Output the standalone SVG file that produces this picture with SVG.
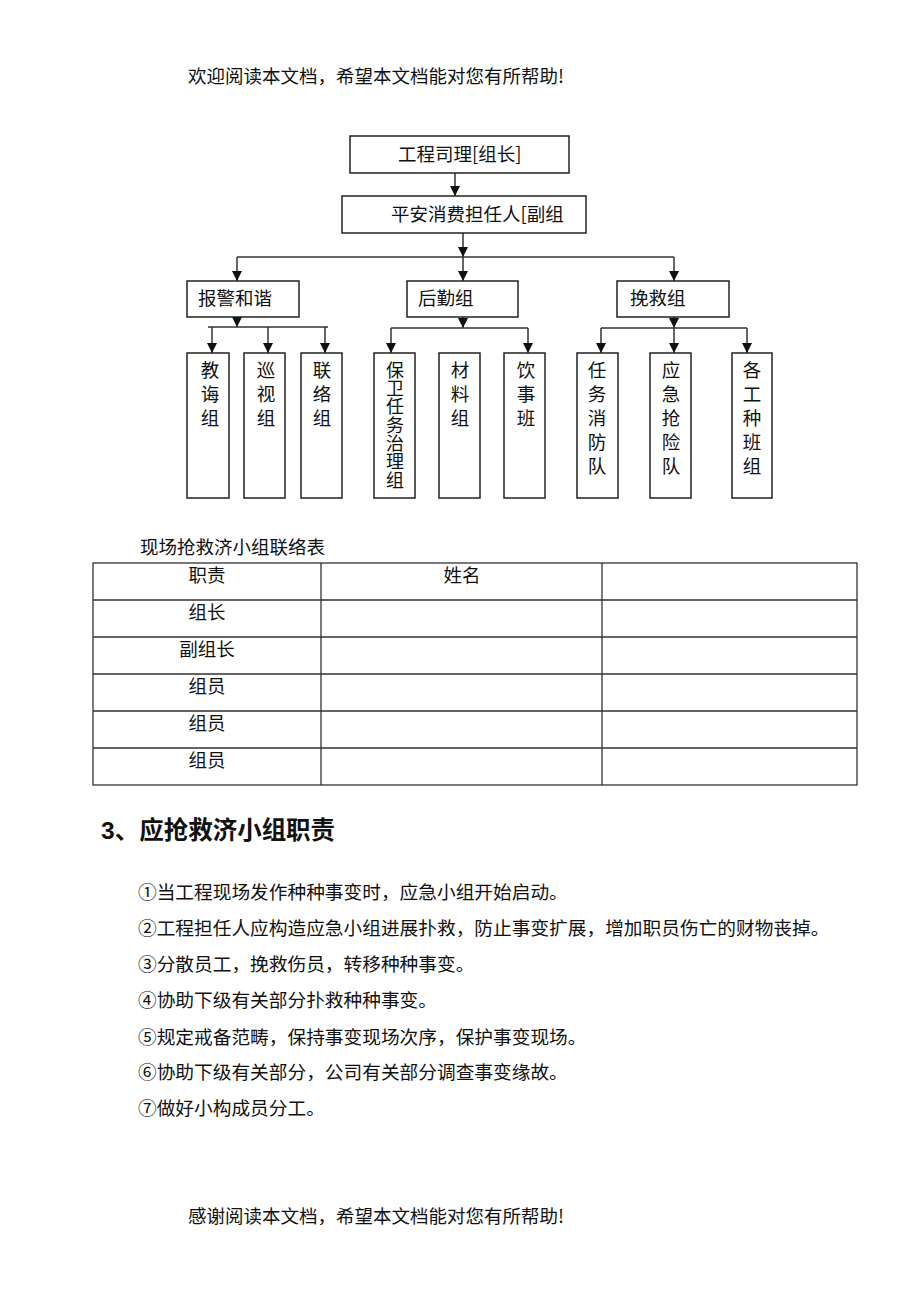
<svg xmlns="http://www.w3.org/2000/svg" width="920" height="1302" viewBox="0 0 920 1302">
<style>
text{font-family:"Noto Sans CJK SC","Liberation Sans",sans-serif;font-size:18.5px;fill:#111}
.box{fill:#fff;stroke:#222;stroke-width:1.5}
.con line{stroke:#333;stroke-width:1.5}
.tb{stroke:#333;stroke-width:1.3;fill:none}
.c{text-anchor:middle}
.v{writing-mode:vertical-rl;font-size:18px;letter-spacing:0.3px}
.li{font-size:18.7px}
.h{font-family:"Liberation Sans","Noto Sans CJK SC",sans-serif;font-weight:bold;font-size:24.5px}
</style>
<defs>
<marker id="ah" markerUnits="userSpaceOnUse" markerWidth="11" markerHeight="11" refX="10" refY="5.5" orient="auto">
<path d="M0,0.5 L10,5.5 L0,10.5 z" fill="#111"/>
</marker>
</defs>
<rect width="920" height="1302" fill="#fff"/>
<text x="188" y="83">欢迎阅读本文档，希望本文档能对您有所帮助!</text>

<g id="connectors" class="con">
<line x1="455" y1="173" x2="455" y2="196" marker-end="url(#ah)"/>
<line x1="463" y1="233" x2="463" y2="257" marker-end="url(#ah)"/>
<line x1="237" y1="257" x2="674" y2="257"/>
<line x1="237" y1="257" x2="237" y2="281" marker-end="url(#ah)"/>
<line x1="463" y1="257" x2="463" y2="281" marker-end="url(#ah)"/>
<line x1="674" y1="257" x2="674" y2="281" marker-end="url(#ah)"/>
<line x1="237" y1="317" x2="237" y2="327" marker-end="url(#ah)"/>
<line x1="208" y1="327" x2="328" y2="327"/>
<line x1="212" y1="327" x2="212" y2="353" marker-end="url(#ah)"/>
<line x1="268" y1="327" x2="268" y2="353" marker-end="url(#ah)"/>
<line x1="325" y1="327" x2="325" y2="353" marker-end="url(#ah)"/>
<line x1="463" y1="317" x2="463" y2="328" marker-end="url(#ah)"/>
<line x1="391" y1="328" x2="528" y2="328"/>
<line x1="391" y1="328" x2="391" y2="353" marker-end="url(#ah)"/>
<line x1="528" y1="328" x2="528" y2="353" marker-end="url(#ah)"/>
<line x1="674" y1="317" x2="674" y2="328" marker-end="url(#ah)"/>
<line x1="601" y1="328" x2="747" y2="328"/>
<line x1="601" y1="328" x2="601" y2="353" marker-end="url(#ah)"/>
<line x1="674" y1="328" x2="674" y2="353" marker-end="url(#ah)"/>
<line x1="747" y1="328" x2="747" y2="353" marker-end="url(#ah)"/>
</g>

<g id="n-leader"><rect class="box" x="350" y="136" width="219" height="37"/><text x="398" y="161">工程司理[组长]</text></g>
<g id="n-deputy"><rect class="box" x="342" y="196" width="244" height="37"/><text x="391" y="221">平安消费担任人[副组</text></g>
<g id="n-alarm"><rect class="box" x="187" y="281" width="112" height="36"/><text x="198" y="305">报警和谐</text></g>
<g id="n-logistics"><rect class="box" x="407" y="281" width="111" height="36"/><text x="418" y="305">后勤组</text></g>
<g id="n-rescue"><rect class="box" x="617" y="281" width="112" height="36"/><text x="630" y="305">挽救组</text></g>

<g id="n-teach"><rect class="box" x="187" y="353" width="42" height="145"/><text class="c" x="210" y="377">教</text><text class="c" x="210" y="401">诲</text><text class="c" x="210" y="425">组</text></g>
<g id="n-patrol"><rect class="box" x="244" y="353" width="41" height="145"/><text class="c" x="266" y="377">巡</text><text class="c" x="266" y="401">视</text><text class="c" x="266" y="425">组</text></g>
<g id="n-liaison"><rect class="box" x="301" y="353" width="41" height="145"/><text class="c" x="322" y="377">联</text><text class="c" x="322" y="401">络</text><text class="c" x="322" y="425">组</text></g>

<g id="n-guard"><rect class="box" x="374" y="353" width="41" height="145"/><text class="v" x="395" y="361">保卫任务治理组</text></g>
<g id="n-material"><rect class="box" x="439" y="353" width="41" height="145"/><text class="c" x="460" y="377">材</text><text class="c" x="460" y="401">料</text><text class="c" x="460" y="425">组</text></g>
<g id="n-kitchen"><rect class="box" x="504" y="353" width="41" height="145"/><text class="c" x="526" y="377">饮</text><text class="c" x="526" y="401">事</text><text class="c" x="526" y="425">班</text></g>

<g id="n-fire"><rect class="box" x="577" y="353" width="41" height="145"/><text class="c" x="597" y="377">任</text><text class="c" x="597" y="401">务</text><text class="c" x="597" y="425">消</text><text class="c" x="597" y="449">防</text><text class="c" x="597" y="473">队</text></g>
<g id="n-emergency"><rect class="box" x="650" y="353" width="41" height="145"/><text class="c" x="671" y="377">应</text><text class="c" x="671" y="401">急</text><text class="c" x="671" y="425">抢</text><text class="c" x="671" y="449">险</text><text class="c" x="671" y="473">队</text></g>
<g id="n-trades"><rect class="box" x="732" y="353" width="40" height="145"/><text class="c" x="752" y="377">各</text><text class="c" x="752" y="401">工</text><text class="c" x="752" y="425">种</text><text class="c" x="752" y="449">班</text><text class="c" x="752" y="473">组</text></g>

<text x="140" y="554">现场抢救济小组联络表</text>
<g id="table">
<rect class="tb" x="93" y="563" width="764" height="222"/>
<path class="tb" d="M93,600H857M93,637H857M93,674H857M93,711H857M93,748H857M321,563V785M602,563V785"/>
<text class="c" x="207" y="582">职责</text>
<text class="c" x="462" y="582">姓名</text>
<text class="c" x="207" y="619">组长</text>
<text class="c" x="207" y="656">副组长</text>
<text class="c" x="207" y="693">组员</text>
<text class="c" x="207" y="730">组员</text>
<text class="c" x="207" y="767">组员</text>
</g>

<text class="h" x="101" y="839">3、应抢救济小组职责</text>
<text class="li" x="138" y="899">①当工程现场发作种种事变时，应急小组开始启动。</text>
<text class="li" x="138" y="935">②工程担任人应构造应急小组进展扑救，防止事变扩展，增加职员伤亡的财物丧掉。</text>
<text class="li" x="138" y="971">③分散员工，挽救伤员，转移种种事变。</text>
<text class="li" x="138" y="1007">④协助下级有关部分扑救种种事变。</text>
<text class="li" x="138" y="1044">⑤规定戒备范畴，保持事变现场次序，保护事变现场。</text>
<text class="li" x="138" y="1079">⑥协助下级有关部分，公司有关部分调查事变缘故。</text>
<text class="li" x="138" y="1115">⑦做好小构成员分工。</text>

<text x="188" y="1223">感谢阅读本文档，希望本文档能对您有所帮助!</text>
</svg>
